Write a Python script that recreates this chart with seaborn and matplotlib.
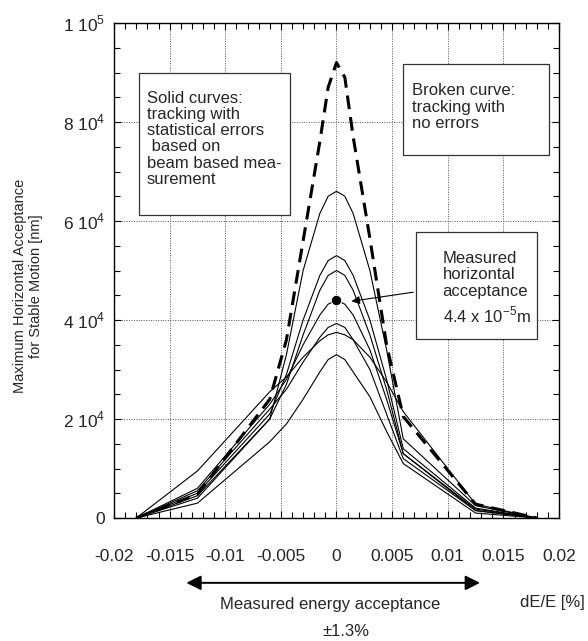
import numpy as np
import pandas as pd
import matplotlib.pyplot as plt
from matplotlib.patches import Rectangle
import seaborn as sns

# dE/E sample points
de = [-0.018, -0.0125, -0.006, -0.0045, -0.003, -0.0015, -0.00075, 0.0,
      0.00075, 0.0015, 0.003, 0.0045, 0.006, 0.0125, 0.018]

# solid curves: tracking with statistical errors
curve_a = [0, 4000, 20000, 33000, 50000, 61500, 65000, 66000, 65000, 61500, 50000, 34000, 16000, 2500, 0]
curve_b = [0, 5000, 21000, 29000, 40000, 49000, 52000, 53000, 52000, 49000, 40000, 28000, 14000, 2000, 0]
curve_c = [0, 4500, 20000, 27000, 37000, 46000, 49000, 50000, 49000, 46000, 37000, 26000, 13000, 1800, 0]
curve_d = [0, 6000, 23000, 28000, 35000, 41000, 43200, 44000, 43200, 41000, 34000, 24000, 13000, 1500, 0]
curve_e = [0, 5500, 22000, 26000, 31500, 36500, 38500, 39300, 38500, 36000, 30000, 21000, 12000, 1500, 0]
curve_f = [0, 9500, 25500, 28500, 32500, 35800, 37000, 37500, 37000, 36000, 32500, 27500, 21500, 2800, 0]
curve_g = [0, 3000, 15400, 19000, 24000, 29500, 32000, 33000, 32000, 29500, 24500, 17500, 11000, 1000, 0]
# broken curve: tracking with no errors
curve_ideal = [0, 4800, 24000, 36000, 56000, 76000, 87000, 92000, 89000, 77000, 56500, 35000, 20500, 2800, 0]

measured_x = [0.0]
measured_y = [44000]

xtick_vals = [-0.02, -0.015, -0.01, -0.005, 0, 0.005, 0.01, 0.015, 0.02]
xtick_labels = ["-0.02", "-0.015", "-0.01", "-0.005", "0", "0.005", "0.01", "0.015", "0.02"]
ytick_vals = [0, 20000, 40000, 60000, 80000, 100000]
ytick_labels = ["0", r"2 10$^4$", r"4 10$^4$", r"6 10$^4$", r"8 10$^4$", r"1 10$^5$"]

solid = {"a": curve_a, "b": curve_b, "c": curve_c, "d": curve_d,
         "e": curve_e, "f": curve_f, "g": curve_g}
df = pd.concat([pd.DataFrame({"dE": de, "acc": v, "run": k}) for k, v in solid.items()])
df_ideal = pd.DataFrame({"dE": de, "acc": curve_ideal})

sns.set_style("ticks")
plt.rcParams["font.family"] = ["Liberation Sans", "DejaVu Sans"]
plt.rcParams["mathtext.fontset"] = "custom"
plt.rcParams["mathtext.rm"] = "Liberation Sans"

fig = plt.figure(figsize=(5.88, 6.41), dpi=100)
ax = fig.add_axes([114 / 588, 1 - 518 / 641, (559 - 114) / 588, (518 - 23) / 641])

sns.lineplot(data=df, x="dE", y="acc", units="run", estimator=None,
             color="black", lw=0.8, ax=ax)
sns.lineplot(data=df_ideal, x="dE", y="acc", color="black", lw=2.2,
             dashes=False, ax=ax).lines[-1].set_dashes((4.5, 2.6))
sns.scatterplot(x=measured_x, y=measured_y, s=55, color="black", zorder=5, ax=ax)

ax.set_xlim(-0.02, 0.02)
ax.set_ylim(0, 100000)
ax.set_xticks(xtick_vals)
ax.set_xticklabels(xtick_labels, fontsize=12.5)
ax.set_yticks(ytick_vals)
ax.set_yticklabels(ytick_labels, fontsize=12.5)
ax.set_xticks(np.arange(-0.02, 0.0201, 0.001), minor=True)
ax.set_yticks(np.arange(0, 100001, 5000), minor=True)
ax.tick_params(which="both", direction="in", top=True, right=True, color="black")
ax.tick_params(which="major", length=5, width=0.8)
ax.tick_params(which="minor", length=4, width=0.8)
ax.tick_params(axis="x", pad=22)
ax.tick_params(axis="y", pad=6.5)
ax.set_xlabel("")
ax.set_ylabel("")
ax.grid(True, which="major", linestyle=(0, (1, 1.5)), color="#555555", lw=0.7)
for s in ax.spines.values():
    s.set_color("black")
    s.set_linewidth(1.0)

# text boxes
ax.add_patch(Rectangle((-0.01775, 61200), 0.01357, 28700, fc="white", ec="#333333", lw=0.9, zorder=6))
ax.text(-0.01706, 86300, "Solid curves:\ntracking with\nstatistical errors\n based on\nbeam based mea-\nsurement",
        fontsize=12, va="top", ha="left", linespacing=1.1, zorder=7)

ax.add_patch(Rectangle((0.006, 73300), 0.0131, 18400, fc="white", ec="#333333", lw=0.9, zorder=6))
ax.text(0.00681, 87800, "Broken curve:\ntracking with\nno errors",
        fontsize=12, va="top", ha="left", linespacing=1.1, zorder=7)

ax.add_patch(Rectangle((0.00715, 36100), 0.0109, 21700, fc="white", ec="#333333", lw=0.9, zorder=6))
ax.text(0.00955, 53900, "Measured\nhorizontal\nacceptance",
        fontsize=12, va="top", ha="left", linespacing=1.1, zorder=7)
ax.text(0.00955, 41000, r"4.4 x 10$^{-5}$m", fontsize=12, va="center", ha="left", zorder=7)

ax.annotate("", xy=(0.0011, 43700), xytext=(0.00715, 45700),
            arrowprops=dict(arrowstyle="-|>", color="black", lw=0.8, mutation_scale=12),
            zorder=8)

# energy acceptance arrow below the axis
ax.annotate("", xy=(-0.0135, -13100), xytext=(0.0129, -13100), xycoords="data",
            arrowprops=dict(arrowstyle="<|-|>", color="black", lw=1.4, mutation_scale=22,
                            shrinkA=0, shrinkB=0),
            annotation_clip=False)
fig.text(330 / 588, 1 - 605 / 641, "Measured energy acceptance", fontsize=12, ha="center", va="center")
fig.text(346 / 588, 1 - 632 / 641, "±1.3%", fontsize=12, ha="center", va="center")
fig.text(552 / 588, 1 - 603 / 641, "dE/E [%]", fontsize=12, ha="center", va="center")

fig.text(28 / 588, 1 - 286 / 641, "Maximum Horizontal Acceptance\nfor Stable Motion [nm]",
         rotation=90, fontsize=10.5, ha="center", va="center", multialignment="center")

fig.savefig("out.png", dpi=100)
